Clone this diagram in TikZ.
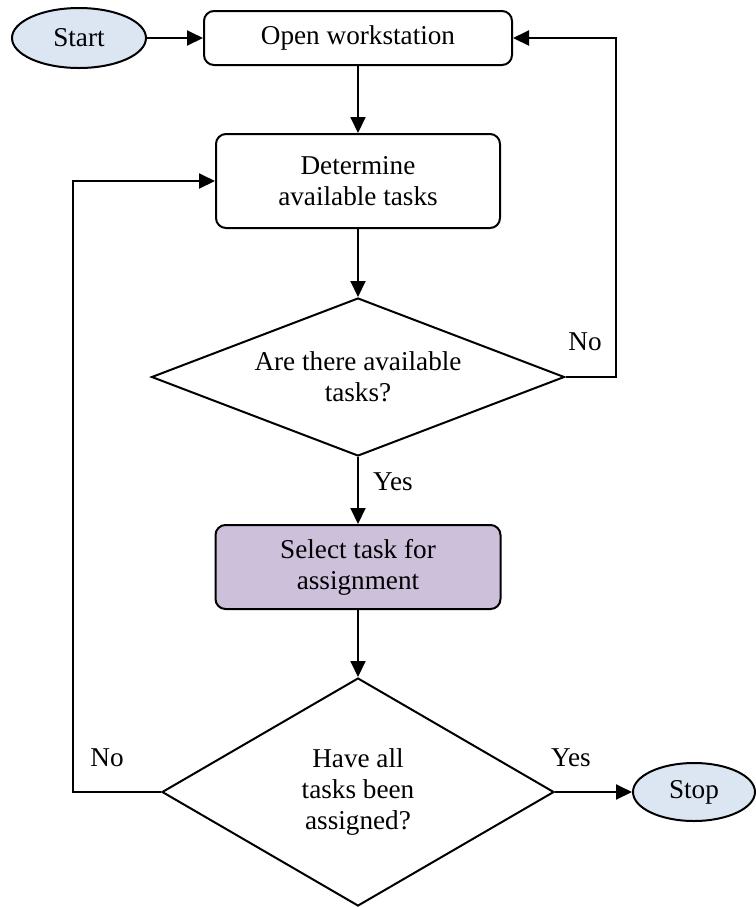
\documentclass[tikz,border=0pt]{standalone}
\usepackage{fontspec}
\setmainfont{Liberation Serif}
\usetikzlibrary{shapes.geometric,arrows.meta}

\definecolor{termfill}{HTML}{DCE6F2}
\definecolor{selfill}{HTML}{CCC0DA}

\tikzset{
  base/.style={draw=black, line width=1pt, align=center, inner sep=0pt,
    font=\fontsize{13.6}{15.6}\selectfont},
  terminal/.style={base, ellipse, fill=termfill},
  process/.style={base, rectangle, rounded corners=5pt, fill=white},
  decision/.style={base, diamond, fill=white},
  flow/.style={line width=1pt, -{Triangle[length=8pt,width=7.5pt]}},
  lbl/.style={font=\fontsize{13.6}{15.6}\selectfont, inner sep=0pt}
}

\begin{document}
\begin{tikzpicture}[x=0.5pt, y=-0.5pt]
  \useasboundingbox (0,0) rectangle (756,907);

  % terminals
  \node[terminal, minimum width=67pt, minimum height=30pt] (start) at (79,38) {Start};
  \node[terminal, minimum width=61pt, minimum height=29pt] (stop) at (694,792) {Stop};

  % process steps
  \node[process, minimum width=154pt, minimum height=27pt] (open) at (358,38) {Open workstation};
  \node[process, minimum width=142pt, minimum height=47pt] (det) at (358,181) {Determine\\available tasks};
  \node[process, fill=selfill, minimum width=142.5pt, minimum height=42pt] (sel) at (358,567) {Select task for\\assignment};

  % decisions
  \node[decision, aspect=2.61, minimum width=206.5pt, minimum height=79pt] (d1) at (358,377) {Are there available\\tasks?};
  \node[decision, aspect=1.72, minimum width=196pt, minimum height=114pt] (d2) at (358,792) {Have all\\tasks been\\assigned?};

  % main flow
  \draw[flow] (start.east) -- (open.west);
  \draw[flow] (open.south) -- (det.north);
  \draw[flow] (det.south) -- (d1.north);
  \draw[flow] (d1.south) -- (sel.north);
  \draw[flow] (sel.south) -- (d2.north);
  \draw[flow] (d2.east) -- (stop.west);

  % loops back
  \draw[flow] (d1.east) -- ++(50,0) |- (open.east);
  \draw[flow] (d2.west) -- ++(-88,0) |- (det.west);

  % branch labels
  \node[lbl] (no1) at (585,342) {No};
  \node[lbl] (yes1) at (393,482) {Yes};
  \node[lbl] (no2) at (107,758) {No};
  \node[lbl] (yes2) at (571,758) {Yes};
\end{tikzpicture}
\end{document}
